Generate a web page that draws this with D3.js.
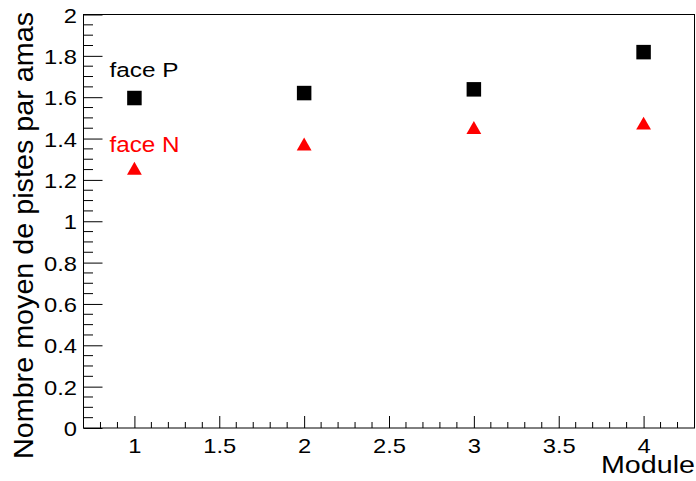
<!DOCTYPE html>
<html><head><meta charset="utf-8">
<script src="https://cdn.jsdelivr.net/npm/d3@7"></script>
<style>html,body{margin:0;padding:0;background:#fff;} svg{display:block;} text{font-family:"Liberation Sans",Arial,Helvetica,sans-serif;}</style>
</head><body>
<script>
const modules = [1, 2, 3, 4];
const faceP = [1.596, 1.62, 1.638, 1.818];
const faceN = [1.251, 1.368, 1.448, 1.469];
const xTicks = [1, 1.5, 2, 2.5, 3, 3.5, 4];
const yTicks = [0, 0.2, 0.4, 0.6, 0.8, 1, 1.2, 1.4, 1.6, 1.8, 2];
const yTitle = "Nombre moyen de pistes par amas";
const xTitle = "Module";
const labelP = "face P";
const labelN = "face N";

const W = 696, H = 481;
const svg = d3.select("body").append("svg").attr("width", W).attr("height", H);
const x = d3.scaleLinear().domain([0.7, 4.3]).range([83.5, 694.5]);
const y = d3.scaleLinear().domain([0, 2]).range([428, 14.5]);
const stretch = 1.13;

// frame
svg.append("rect").attr("x", x(0.7)).attr("y", y(2)).attr("width", x(4.3) - x(0.7)).attr("height", y(0) - y(2))
  .attr("fill", "none").attr("stroke", "#000").attr("stroke-width", 1);

// x axis
const xMinor = d3.range(7, 44).map(v => v / 10).filter(v => Math.abs(v * 2 - Math.round(v * 2)) > 1e-6);
const xAxis = svg.append("g").attr("transform", `translate(0,${y(0)})`)
  .call(d3.axisBottom(x).tickValues(xTicks).tickSize(-12).tickPadding(0).tickFormat(d3.format("~g")));
xAxis.select(".domain").remove();
xAxis.selectAll(".tick text").attr("font-size", 21).attr("fill", "#000").attr("dy", null).attr("y", 25)
  .attr("transform", `scale(${stretch},1)`);
xAxis.selectAll(".tick line").attr("stroke", "#000");
svg.append("g").selectAll("line").data(xMinor).join("line")
  .attr("x1", d => x(d)).attr("x2", d => x(d)).attr("y1", y(0)).attr("y2", y(0) - 6).attr("stroke", "#000");

// y axis
const yMinor = d3.range(0, 41).map(v => v / 20).filter(v => Math.abs(v * 5 - Math.round(v * 5)) > 1e-6);
const yAxis = svg.append("g").attr("transform", `translate(${x(0.7)},0)`)
  .call(d3.axisLeft(y).tickValues(yTicks).tickSize(-19).tickPadding(8).tickFormat(d3.format("~g")));
yAxis.select(".domain").remove();
yAxis.selectAll(".tick text").attr("font-size", 21).attr("fill", "#000").attr("x", 0).attr("dy", "0.36em")
  .attr("transform", `translate(-6.5,0) scale(${stretch},1)`);
yAxis.selectAll(".tick line").attr("stroke", "#000");
svg.append("g").selectAll("line").data(yMinor).join("line")
  .attr("x1", x(0.7)).attr("x2", x(0.7) + 9.5).attr("y1", d => y(d)).attr("y2", d => y(d)).attr("stroke", "#000");

// titles
svg.append("text").attr("transform", `translate(33,12) rotate(-90)`).attr("text-anchor", "end")
  .attr("font-size", 27).attr("fill", "#000")
  .attr("textLength", 447).attr("lengthAdjust", "spacingAndGlyphs").text(yTitle);
svg.append("text").attr("x", 695).attr("y", 473).attr("text-anchor", "end")
  .attr("font-size", 23).attr("fill", "#000")
  .attr("textLength", 94).attr("lengthAdjust", "spacingAndGlyphs").text(xTitle);

// markers
const sq = 14.5;
svg.append("g").selectAll("rect").data(modules).join("rect")
  .attr("x", (d) => x(d) - sq / 2).attr("y", (d, i) => y(faceP[i]) - sq / 2)
  .attr("width", sq).attr("height", sq).attr("fill", "#000");
const tri = d3.symbol().type(d3.symbolTriangle).size(95);
svg.append("g").selectAll("path").data(modules).join("path")
  .attr("d", tri).attr("transform", (d, i) => `translate(${x(d)},${y(faceN[i]) + 1})`).attr("fill", "#ff0000");

// labels
svg.append("text").attr("x", 109.5).attr("y", 77.3).attr("font-size", 20.5).attr("fill", "#000")
  .attr("textLength", 69).attr("lengthAdjust", "spacingAndGlyphs").text(labelP);
svg.append("text").attr("x", 109.5).attr("y", 151.7).attr("font-size", 21.5).attr("fill", "#ff0000")
  .attr("textLength", 70).attr("lengthAdjust", "spacingAndGlyphs").text(labelN);
</script>
</body></html>
